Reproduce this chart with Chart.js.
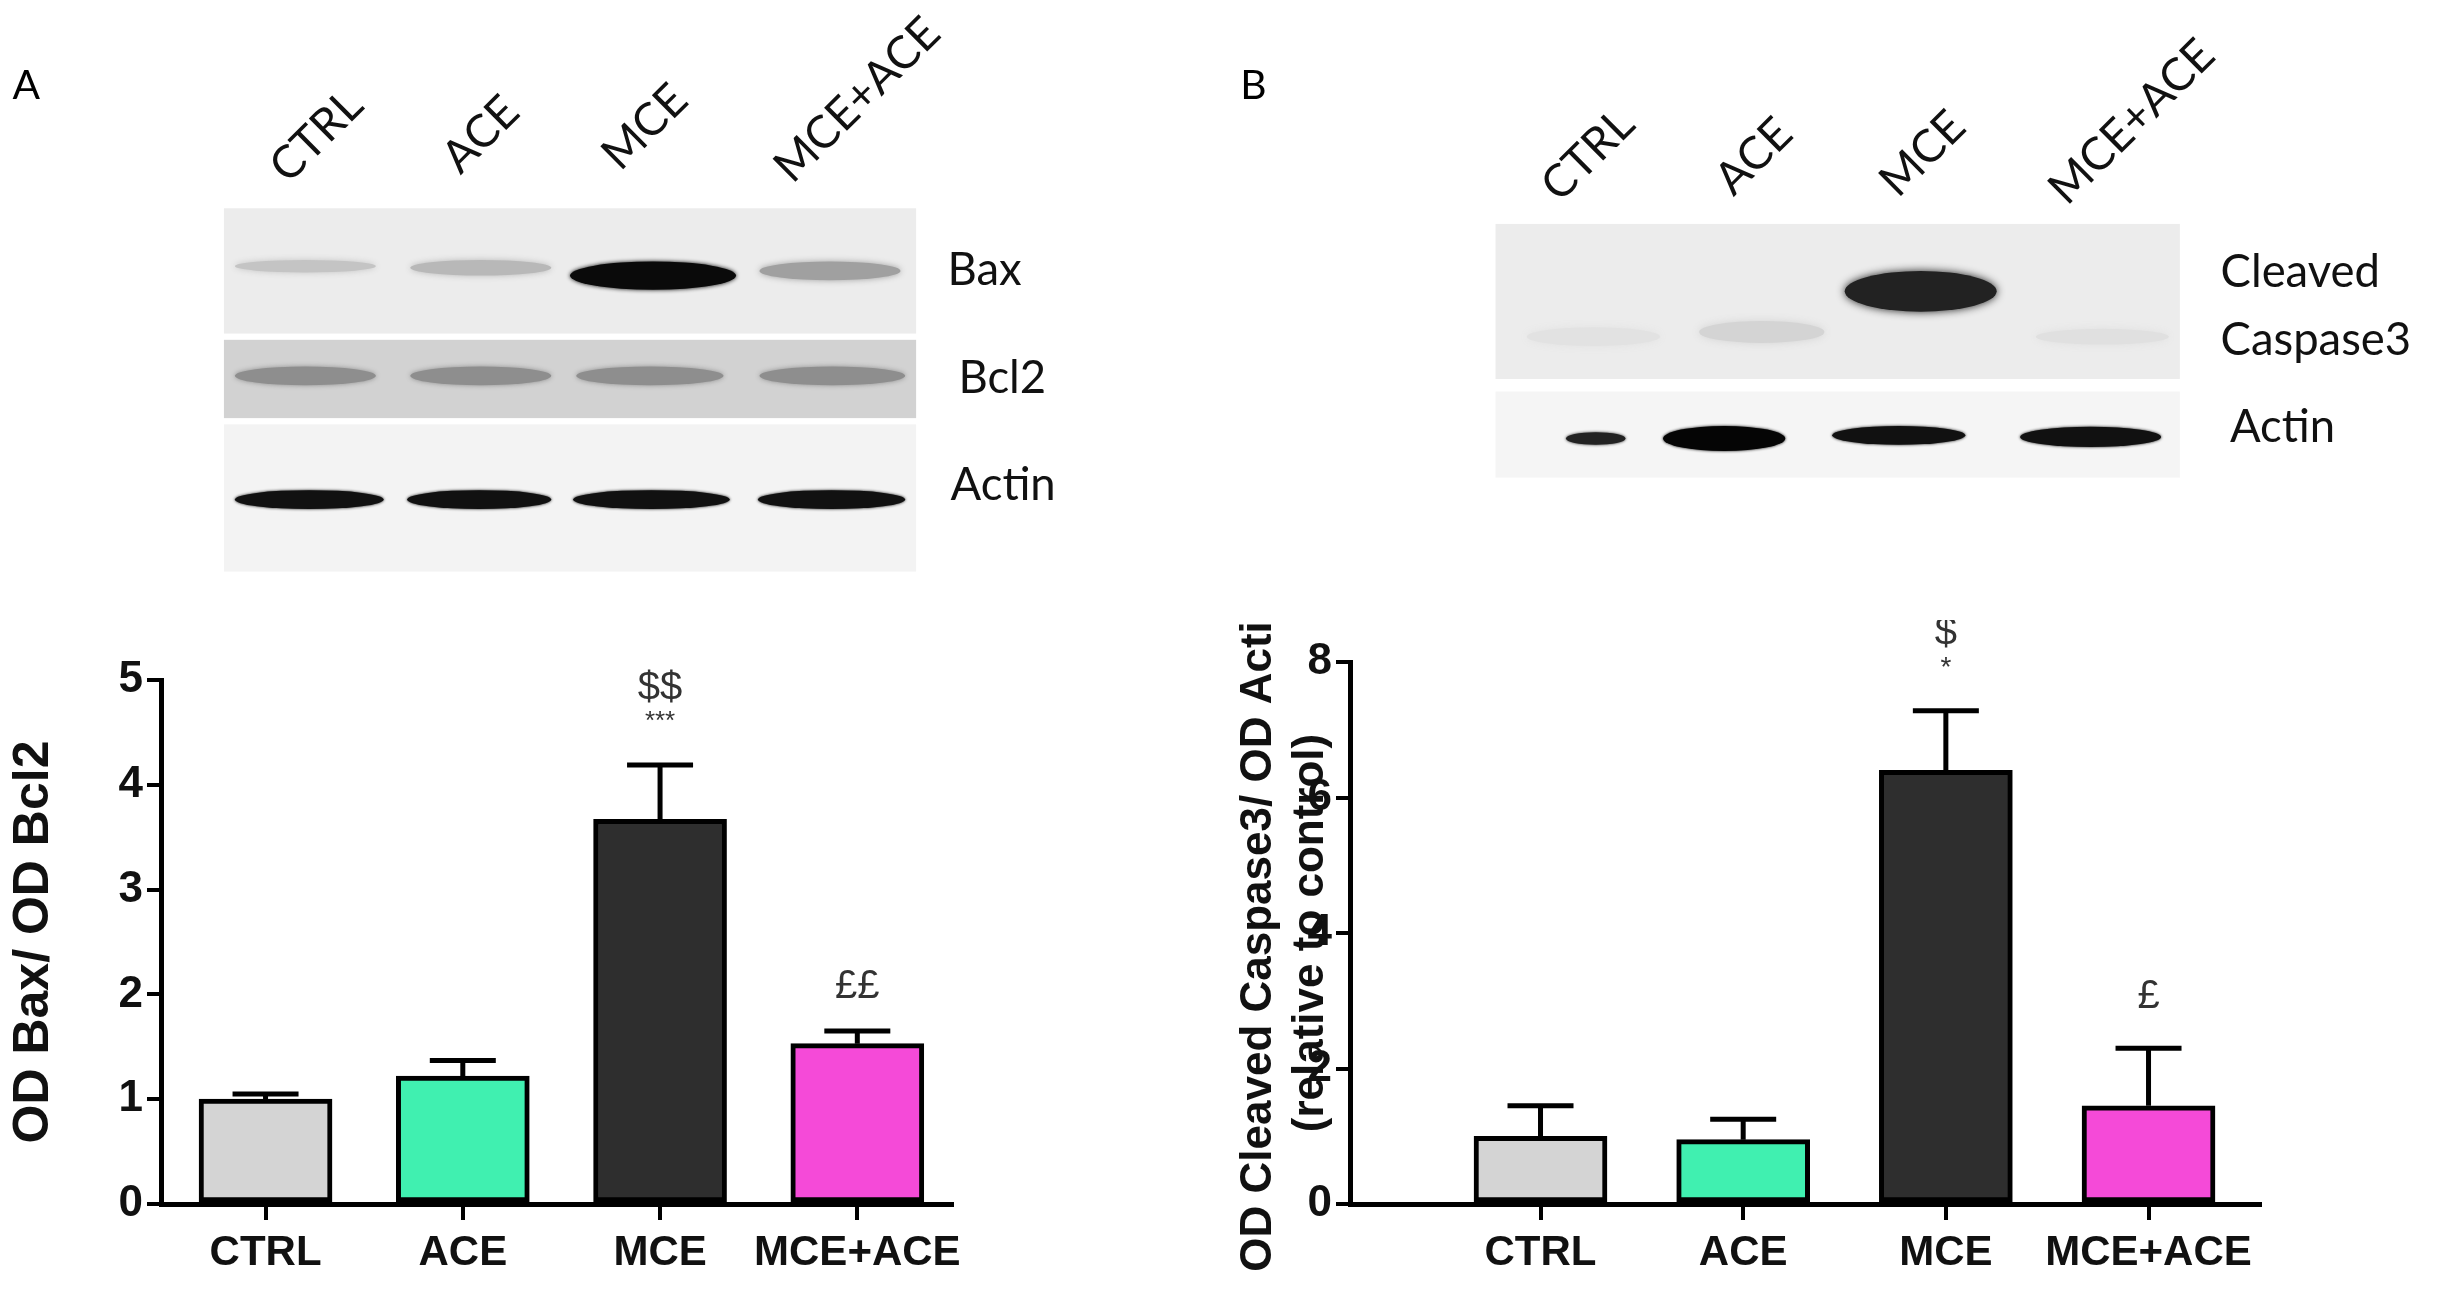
<!DOCTYPE html>
<html><head><meta charset="utf-8">
<script src="https://cdn.jsdelivr.net/npm/chart.js@4"></script>
<style>
body{margin:0;background:#fff;width:2456px;height:1306px;overflow:hidden;position:relative;font-family:"Liberation Sans",Arial,sans-serif}
canvas{position:absolute}
</style></head><body>
<canvas id="blot" width="2456" height="620" style="left:0;top:0"></canvas>
<div style="position:absolute;left:0;top:620px;width:1000px;height:686px"><canvas id="cA"></canvas></div>
<div style="position:absolute;left:1228px;top:620px;width:1228px;height:686px"><canvas id="cB"></canvas></div>
<script>
// ---- data ----
const categories = ["CTRL","ACE","MCE","MCE+ACE"];
const barColors = ["#d4d4d4","#40f0b0","#2e2e2e","#f54ad8"];
const valuesA = [1.0, 1.22, 3.67, 1.53];
const errorsA = [0.05, 0.15, 0.52, 0.12];
const valuesB = [1.0, 0.95, 6.4, 1.45];
const errorsB = [0.45, 0.3, 0.88, 0.85];
const ticksA = [0,1,2,3,4,5];
const ticksB = [0,2,4,6,8];
const marksA = [{i:2,y:4.91,t:"$$",s:40},{i:2,y:4.6,t:"***",s:26},{i:3,y:2.07,t:"££",s:40}];
const marksB = [{i:2,y:8.42,t:"$",s:40},{i:2,y:7.9,t:"*",s:28},{i:3,y:3.05,t:"£",s:40}];
const titleA = "OD Bax/ OD Bcl2";
const titleB = ["OD Cleaved Caspase3/ OD Actin","(relative to control)"];

// ---- blots (illustration) ----
const bc = document.getElementById('blot').getContext('2d');
bc.scale(1.566,1.566);
bc.fillStyle="#000";bc.font="26px Lato, 'DejaVu Sans'";
bc.fillText("A",8,63);bc.fillText("B",792,63);
function band(x1,x2,y,h,col,blur){bc.save();bc.shadowColor=col;bc.shadowBlur=blur;bc.fillStyle=col;
  bc.beginPath();bc.ellipse((x1+x2)/2,y,(x2-x1)/2,h/2,0,0,Math.PI*2);bc.fill();bc.restore();}
bc.fillStyle="#ececec";bc.fillRect(143,133,442,80);
band(150,240,170,8,"#c4c4c4",6);band(262,352,171,10,"#b8b8b8",6);band(364,470,176,18,"#0a0a0a",4);band(485,575,173,12,"#a0a0a0",6);
bc.fillStyle="#d2d2d2";bc.fillRect(143,217,442,50);
[[150,240],[262,352],[368,462],[485,578]].forEach(p=>band(p[0],p[1],240,12,"#8e8e8e",5));
bc.fillStyle="#f3f3f3";bc.fillRect(143,271,442,94);
[[150,245],[260,352],[366,466],[484,578]].forEach(p=>band(p[0],p[1],319,12,"#111",3));
bc.fillStyle="#ececec";bc.fillRect(955,143,437,99);
band(975,1060,215,12,"#e2e2e2",8);band(1085,1165,212,14,"#d4d4d4",8);band(1178,1275,186,26,"#222",8);band(1300,1385,215,10,"#e0e0e0",8);
bc.fillStyle="#f5f5f5";bc.fillRect(955,250,437,55);
band(1000,1038,280,8,"#222",3);band(1062,1140,280,16,"#050505",3);band(1170,1255,278,12,"#111",3);band(1290,1380,279,13,"#111",3);
bc.font="29px Lato, 'DejaVu Sans'";bc.fillStyle="#111";
bc.fillText("Bax",605,182);bc.fillText("Bcl2",612,251);bc.fillText("Actin",607,319);
bc.fillText("Cleaved",1418,183);bc.fillText("Caspase3",1418,227);bc.fillText("Actin",1424,282);
function rot(t,x,y){bc.save();bc.translate(x,y);bc.rotate(-0.78);bc.fillText(t,0,0);bc.restore();}
rot("CTRL",184,118);rot("ACE",294,112);rot("MCE",396,110);rot("MCE+ACE",506,118);
rot("CTRL",996,130);rot("ACE",1107,126);rot("MCE",1212,127);rot("MCE+ACE",1320,132);

// ---- charts ----
const errPlugin={id:'err',afterDatasetsDraw(ch){
  const o=ch.options.plugins.err, c=ch.ctx, xs=ch.scales.x, ys=ch.scales.y;
  c.save();c.strokeStyle="#000";c.lineWidth=5;
  o.values.forEach((v,i)=>{const x=xs.getPixelForValue(i),y0=ys.getPixelForValue(v),y1=ys.getPixelForValue(v+o.errors[i]);
    c.beginPath();c.moveTo(x,y0);c.lineTo(x,y1);c.moveTo(x-33,y1);c.lineTo(x+33,y1);c.stroke();});
  c.fillStyle="#333";c.textAlign="center";c.textBaseline="middle";
  o.marks.forEach(m=>{c.font=m.s+"px 'Liberation Sans', Arial";c.fillText(m.t,xs.getPixelForValue(m.i),ys.getPixelForValue(m.y));});
  c.restore();}};
function make(id,vals,errs,marks,ticks,ymax,xmin,xmax,yw,pad,title,tsize){
  new Chart(document.getElementById(id),{type:'bar',
    data:{datasets:[{data:vals.map((v,i)=>({x:i,y:v})),backgroundColor:barColors,borderColor:"#000",borderWidth:5,barThickness:133,borderSkipped:false}]},
    options:{responsive:true,maintainAspectRatio:false,animation:false,layout:{padding:pad},
      plugins:{legend:{display:false},tooltip:{enabled:false},err:{values:vals,errors:errs,marks:marks}},
      scales:{
        x:{type:'linear',offset:false,min:xmin,max:xmax,afterBuildTicks:s=>{s.ticks=categories.map((c,i)=>({value:i}));},
          afterFit:s=>{s.height=102;},
          ticks:{callback:(v)=>categories[v],color:"#111",font:{size:42,weight:'bold',family:"'Liberation Sans', Arial"},padding:8,maxRotation:0,autoSkip:false},
          grid:{offset:false,drawOnChartArea:false,drawTicks:true,tickLength:16,color:"#000",lineWidth:4},border:{color:"#000",width:5}},
        y:{min:0,max:ymax,afterBuildTicks:s=>{s.ticks=ticks.map(v=>({value:v}));},afterFit:s=>{s.width=yw;},
          ticks:{color:"#111",font:{size:44,weight:'bold',family:"'Liberation Sans', Arial"},padding:4},
          grid:{drawOnChartArea:false,drawTicks:true,tickLength:14,color:"#000",lineWidth:4},border:{color:"#000",width:5},
          title:{display:true,text:title,color:"#111",font:{size:tsize,weight:'bold',family:"'Liberation Sans', Arial"},padding:{bottom:4}}}}},
    plugins:[errPlugin]});
}
make('cA',valuesA,errorsA,marksA,ticksA,5,-0.53,3.48,161,{top:60,right:48,left:0,bottom:0},titleA,50);
make('cB',valuesB,errorsB,marksB,ticksB,8,-0.94,3.55,122,{top:42,right:196,left:0,bottom:0},titleB,44);
</script></body></html>
